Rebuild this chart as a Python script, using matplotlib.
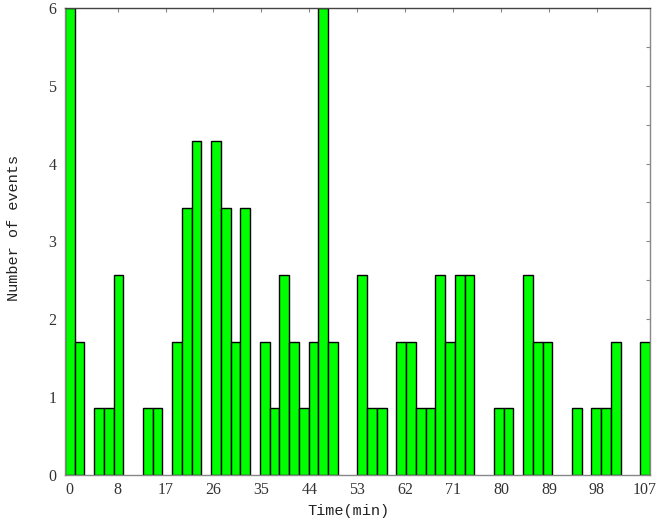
"""Histogram of event counts over time (green bars, MATLAB-style frame)."""

import matplotlib

matplotlib.use("Agg")
import matplotlib.pyplot as plt
import numpy as np

# ---------------------------------------------------------------------------
# Data
# ---------------------------------------------------------------------------
T_MIN, T_MAX = 0.0, 107.0
N_BINS = 60

# height of each of the 60 bins, left to right
bin_heights = [
    6.0, 1.71, 0, 0.86, 0.86, 2.57, 0, 0, 0.86, 0.86,
    0, 1.71, 3.43, 4.29, 0, 4.29, 3.43, 1.71, 3.43, 0,
    1.71, 0.86, 2.57, 1.71, 0.86, 1.71, 6.0, 1.71, 0, 0,
    2.57, 0.86, 0.86, 0, 1.71, 1.71, 0.86, 0.86, 2.57, 1.71,
    2.57, 2.57, 0, 0, 0.86, 0.86, 0, 2.57, 1.71, 1.71,
    0, 0, 0.86, 0, 0.86, 0.86, 1.71, 0, 0, 1.71,
]

x_tick_values = [107 * k / 12 for k in range(13)]
x_tick_labels = ["0", "8", "17", "26", "35", "44", "53", "62", "71", "80", "89", "98", "107"]
y_tick_values = [0, 1, 2, 3, 4, 5, 6]


def main() -> None:
    centers = np.linspace(T_MIN, T_MAX, N_BINS)
    width = (T_MAX - T_MIN) / (N_BINS - 1)
    heights = np.array(bin_heights)

    fig = plt.figure(figsize=(6.61, 5.22), dpi=100)
    ax = fig.add_axes([0.098, 0.090, 0.885, 0.895])

    mask = heights > 0
    ax.bar(centers[mask], heights[mask], width=width, color="#00ff00",
           edgecolor="black", linewidth=1.0, align="center", zorder=2)

    ax.set_xlim(T_MIN - width / 2, T_MAX + width / 2)
    ax.set_ylim(0, 6)

    tick_font = dict(family="Liberation Serif", size=11.5)
    ax.set_xticks(x_tick_values)
    ax.set_xticklabels(x_tick_labels, **tick_font, color="#333333")
    ax.set_yticks(y_tick_values)
    ax.set_yticklabels([str(v) for v in y_tick_values], **tick_font, color="#333333")
    ax.tick_params(axis="x", length=0, pad=5)
    ax.tick_params(axis="y", length=0, pad=6)

    # small inward ticks on the top and right edges
    top = ax.secondary_xaxis("top")
    top.set_xticks(x_tick_values[1:-1])
    top.set_xticklabels([])
    top.tick_params(direction="in", length=3, color="#888888")
    top.spines["top"].set_visible(False)
    right = ax.secondary_yaxis("right")
    right.set_yticks(np.arange(0.5, 6.0, 0.5))
    right.set_yticklabels([])
    right.tick_params(direction="in", length=3, color="#888888")
    right.spines["right"].set_visible(False)

    ax.spines["top"].set_color("#444444")
    ax.spines["right"].set_color("#888888")
    ax.spines["bottom"].set_color("#888888")
    ax.spines["left"].set_color("#888888")
    for s in ax.spines.values():
        s.set_linewidth(1.0)

    label_font = dict(family="Liberation Mono", size=11, color="#222222")
    ax.set_xlabel("Time(min)", **label_font)
    ax.set_ylabel("Number of events", **label_font)
    ax.xaxis.set_label_coords(0.485, -0.062)
    ax.yaxis.set_label_coords(-0.074, 0.529)

    fig.savefig("out.png", dpi=100)
    plt.close(fig)


if __name__ == "__main__":
    main()
